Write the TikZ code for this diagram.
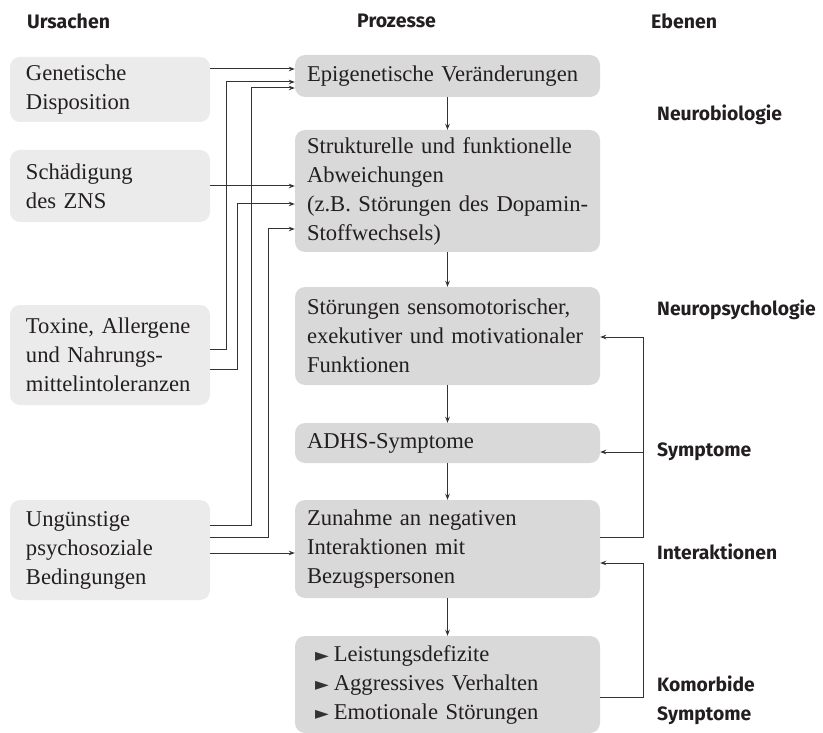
\documentclass[tikz,border=0pt]{standalone}
\usepackage{fontspec}
\setmainfont{Liberation Serif}
\newfontfamily\headfnt{Fira Sans}
\newfontfamily\symfnt{DejaVu Sans}
\usetikzlibrary{arrows.meta}
\definecolor{causefill}{HTML}{EBEBEB}
\definecolor{procfill}{HTML}{D9D9D9}
\definecolor{linec}{HTML}{333333}
\definecolor{txt}{HTML}{231F20}
\newcommand\bodyfnt{\fontsize{22.6}{29}\selectfont}
\newcommand\hdfnt{\headfnt\bfseries\fontsize{19.5}{29}\selectfont}
\newcommand\lblfnt{\headfnt\bfseries\fontsize{19.3}{29}\selectfont}
\newcommand\bul{{\symfnt\fontsize{18}{18}\selectfont\color{linec}►}\hspace{5pt}}
\begin{document}
\begin{tikzpicture}[x=1pt,y=-1pt,
  cause/.style={fill=causefill, rounded corners=10pt, text width=168pt, inner xsep=16pt, inner ysep=0pt, align=left, font=\bodyfnt, text=txt},
  proc/.style={fill=procfill, rounded corners=10pt, text width=281pt, inner xsep=12pt, inner ysep=0pt, align=left, font=\bodyfnt, text=txt},
  head/.style={anchor=west, inner sep=0pt, font=\hdfnt, text=txt},
  lvl/.style={anchor=west, inner sep=0pt, font=\lblfnt, text=txt, align=left},
  arr/.style={draw=linec, line width=1pt, -{Stealth[length=6pt,width=4.5pt]}},
]
\useasboundingbox (0,0) rectangle (823,733);

% headers
\node[head] (hU) at (27,21) {Ursachen};
\node[head] (hP) at (357,21) {Prozesse};
\node[head] (hE) at (651,21) {Ebenen};

% causes
\node[cause, minimum height=65pt] (g) at (110,89.5) {Genetische\\Disposition};
\node[cause, minimum height=72pt] (z) at (110,186) {Schädigung\\des ZNS};
\node[cause, minimum height=100pt] (t) at (110,355) {Toxine, Allergene\\und Nahrungs-\\mittelintoleranzen};
\node[cause, minimum height=100pt] (u) at (110,550) {Ungünstige\\psychosoziale\\Bedingungen};

% processes
\node[proc, minimum height=42pt] (m1) at (447.5,76) {Epigenetische Veränderungen};
\node[proc, minimum height=122pt] (m2) at (447.5,191) {Strukturelle und funktionelle\\Abweichungen\\\mbox{(z.B. Störungen des Dopamin-}\\Stoffwechsels)};
\node[proc, minimum height=98pt] (m3) at (447.5,336) {\mbox{Störungen sensomotorischer,}\\\mbox{exekutiver und motivationaler}\\Funktionen};
\node[proc, minimum height=40pt] (m4) at (447.5,443) {ADHS-Symptome};
\node[proc, minimum height=98pt] (m5) at (447.5,549) {Zunahme an negativen\\Interaktionen mit\\Bezugspersonen};
\node[proc, minimum height=97pt, inner xsep=20pt, text width=265pt] (m6) at (447.5,684.5) {\bul Leistungsdefizite\\\bul Aggressives Verhalten\\\bul Emotionale Störungen};

% levels
\node[lvl] (l1) at (657,115) {Neurobiologie};
\node[lvl] (l2) at (657,310) {Neuropsychologie};
\node[lvl] (l3) at (657,452) {Symptome};
\node[lvl] (l4) at (657,552) {Interaktionen};
\node[lvl, text depth=0pt] (l5) at (657,698) {Komorbide\\Symptome};

% vertical flow
\draw[arr] (m1.south) -- (m2.north);
\draw[arr] (m2.south) -- (m3.north);
\draw[arr] (m3.south) -- (m4.north);
\draw[arr] (m4.south) -- (m5.north);
\draw[arr] (m5.south) -- (m6.north);

% causes to processes
\draw[arr] (g.east |- 0,69) -- (m1.west |- 0,69);
\draw[arr] (t.east |- 0,349) -| (226,82) -- (m1.west |- 0,82);
\draw[arr] (u.east |- 0,525) -| (251,88) -- (m1.west |- 0,88);
\draw[arr] (z.east |- 0,186) -- (m2.west |- 0,186);
\draw[arr] (t.east |- 0,369) -| (237,204) -- (m2.west |- 0,204);
\draw[arr] (u.east |- 0,537) -| (268,229) -- (m2.west |- 0,229);
\draw[arr] (u.east |- 0,553) -- (m5.west |- 0,553);

% feedback
\coordinate (fb) at (643,452);
\draw[arr] (m5.east |- 0,537) -| (643,337) -- (m3.east |- 0,337);
\draw[arr] (fb) -- (m4.east |- fb);
\draw[arr] (m6.east |- 0,697) -| (643,563) -- (m5.east |- 0,563);
\end{tikzpicture}
\end{document}
